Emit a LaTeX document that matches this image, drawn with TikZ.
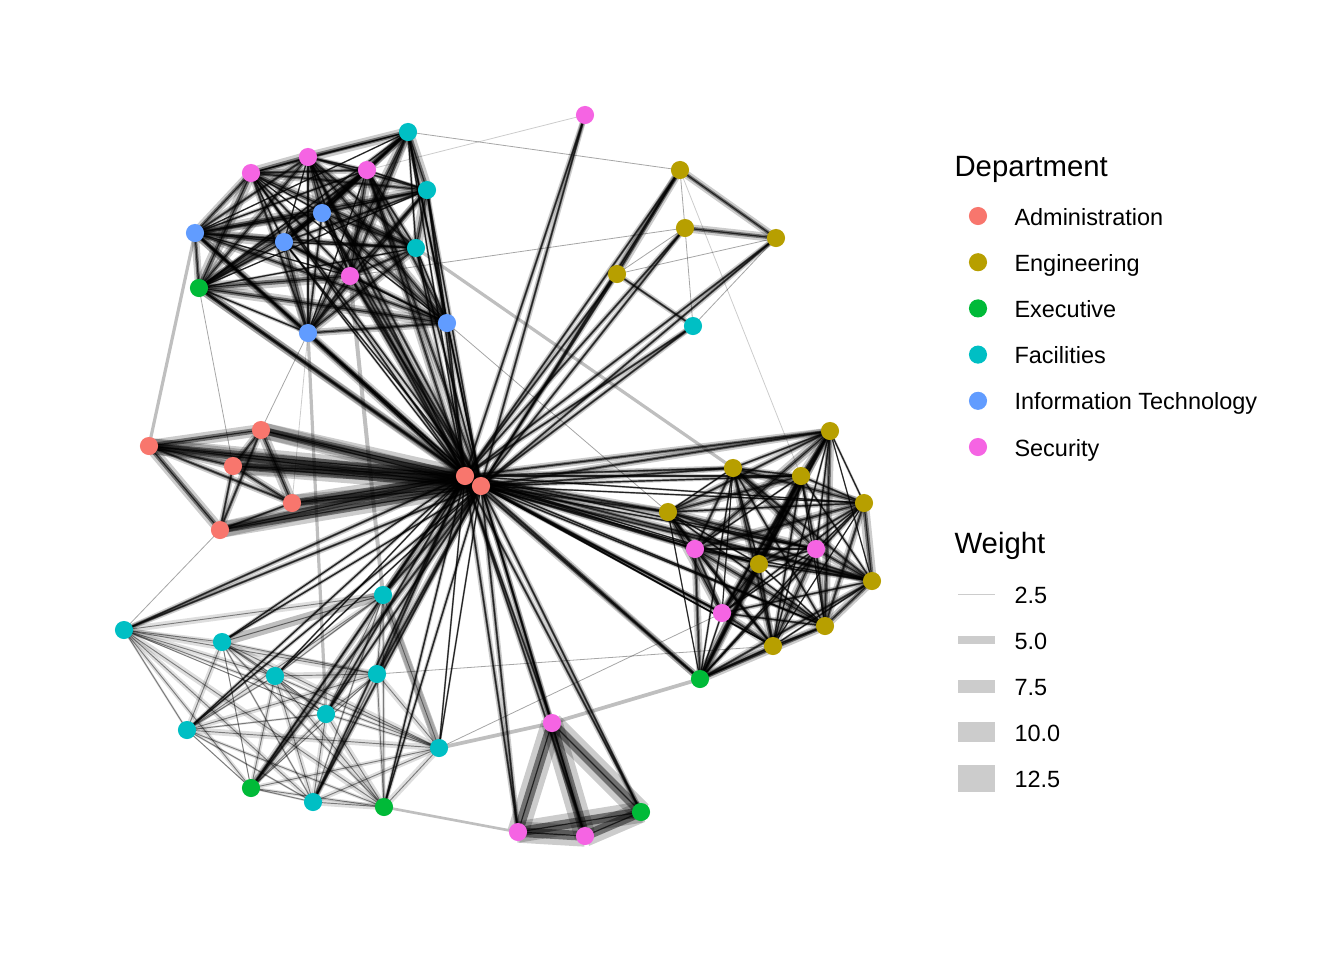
\documentclass[tikz,border=0pt]{standalone}
\usepackage{fontspec}
\setmainfont{Liberation Sans}
\usepackage{tikz}
\usetikzlibrary{backgrounds}
\tikzset{>=latex}
\definecolor{admcol}{HTML}{F8766D}
\definecolor{engcol}{HTML}{B79F00}
\definecolor{execol}{HTML}{00BA38}
\definecolor{faccol}{HTML}{00BFC4}
\definecolor{itcol}{HTML}{619CFF}
\definecolor{seccol}{HTML}{F564E3}
\tikzset{
	vertex/.style={circle,inner sep=0pt,minimum size=6.8pt,fill=#1},
	tie/.style={draw=black,draw opacity=0.7,line width=0.45pt,
		preaction={draw=black,draw opacity=0.2,line width=#1pt},
		preaction={draw=black,draw opacity=0.45,line width=0.45*#1pt}},
	tie/.default=2,
	thread/.style={draw=black,draw opacity=0.45,line width=0.35pt,
		preaction={draw=black,draw opacity=0.13,line width=#1pt}},
	thread/.default=1.5,
	wisp/.style={draw=black,draw opacity=0.35,line width=0.3pt},
	band/.style={draw=black,draw opacity=0.25,line width=#1pt},
	keytext/.style={anchor=base west,inner sep=0pt,font=\fontsize{8.8}{10.5}\selectfont},
	keytitle/.style={anchor=base west,inner sep=0pt,font=\fontsize{11}{13}\selectfont},
}
\def\toplist{sec1,sec2,sec3,fac1,fac2,it1,it2,it3,fac3,sec4,exe1,it4,it5}
\def\rightlist{eng5,eng6,eng7,eng8,eng9,sec6,sec7,eng10,eng11,sec8,eng12,eng13,exe2}
\def\lowlist{fac5,fac6,fac7,fac8,fac9,fac10,fac11,fac12,exe3,fac13,exe4}
\def\admlist{adm1,adm2,adm3,adm4,adm5}
\def\tiplist{sec5,eng1,eng2,eng3,eng4,fac4,sec9,exe5,sec10,sec11}

\begin{document}
\begin{tikzpicture}[x=0.375pt,y=-0.375pt]
		\useasboundingbox (0,0) rectangle (1344,960);
		% vertices
		\foreach \n/\x/\y in {sec1/251/173,sec2/308/157,sec3/367/170,sec4/350/276,sec5/585/115,sec6/695/549,sec7/816/549,sec8/722/613,sec9/552/723,sec10/518/832,sec11/585/836}
			\node[vertex=seccol] (\n) at (\x,\y) {};
		\foreach \n/\x/\y in {fac1/408/132,fac2/427/190,fac3/416/248,fac4/693/326,fac5/383/595,fac6/124/630,fac7/222/642,fac8/275/676,fac9/377/674,fac10/326/714,fac11/187/730,fac12/439/748,fac13/313/802}
			\node[vertex=faccol] (\n) at (\x,\y) {};
		\foreach \n/\x/\y in {it1/322/213,it2/195/233,it3/284/242,it4/308/333,it5/447/323}
			\node[vertex=itcol] (\n) at (\x,\y) {};
		\foreach \n/\x/\y in {exe1/199/288,exe2/700/679,exe3/251/788,exe4/384/807,exe5/641/812}
			\node[vertex=execol] (\n) at (\x,\y) {};
		\foreach \n/\x/\y in {eng1/680/170,eng2/685/228,eng3/776/238,eng4/617/274,eng5/830/431,eng6/733/468,eng7/801/476,eng8/864/503,eng9/668/512,eng10/759/564,eng11/872/581,eng12/825/626,eng13/773/646}
			\node[vertex=engcol] (\n) at (\x,\y) {};
		\foreach \n/\x/\y in {adm1/149/446,adm2/261/430,adm3/233/466,adm4/292/503,adm5/220/530,adm6/465/476,adm7/481/486}
			\node[vertex=admcol] (\n) at (\x,\y) {};

		\begin{scope}[on background layer]
		% spokes out of the two hubs
		\foreach \h in {adm6,adm7}{
			\foreach \n [count=\i] in \toplist
				{\pgfmathsetmacro\w{1+mod(\i*5,4)*0.7}\draw[tie=\w] (\h.center) -- (\n.center);}
			\foreach \n [count=\i] in \rightlist
				{\pgfmathsetmacro\w{0.8+mod(\i*3,4)*0.6}\draw[tie=\w] (\h.center) -- (\n.center);}
			\foreach \n [count=\i] in \lowlist
				{\pgfmathsetmacro\w{0.8+mod(\i*7,4)*0.6}\draw[tie=\w] (\h.center) -- (\n.center);}
			\foreach \n in \tiplist \draw[tie=2] (\h.center) -- (\n.center);
			\foreach \n in \admlist \draw[tie=6] (\h.center) -- (\n.center);
		}
		\draw[tie=3] (adm6.center) -- (adm7.center);
		% clusters
		\foreach \a [count=\i] in \toplist
			\foreach \b [count=\j] in \toplist
				{\ifnum\j>\i \pgfmathsetmacro\w{0.6+mod(\i*7+\j*5,9)*0.45}\draw[tie=\w] (\a.center) -- (\b.center);\fi}
		\foreach \a [count=\i] in \rightlist
			\foreach \b [count=\j] in \rightlist
				{\ifnum\j>\i \pgfmathsetmacro\w{0.5+mod(\i*5+\j*3,8)*0.45}\draw[tie=\w] (\a.center) -- (\b.center);\fi}
		\foreach \a [count=\i] in \lowlist
			\foreach \b [count=\j] in \lowlist
				{\ifnum\j>\i \pgfmathsetmacro\w{0.4+mod(\i*3+\j*7,6)*0.4}\draw[thread=\w] (\a.center) -- (\b.center);\fi}
		\foreach \a/\b/\w in {adm1/adm2/4.5,adm1/adm3/3,adm1/adm5/4,adm1/adm4/2.5,adm2/adm3/3,adm2/adm4/4,adm2/adm5/2.5,adm3/adm5/2,adm3/adm4/3,adm4/adm5/2}
			\draw[tie=\w] (\a.center) -- (\b.center);
		\foreach \a/\b in {sec9/sec10,sec9/sec11,sec9/exe5,sec10/sec11,sec11/exe5,sec10/exe5}
			\draw[tie=8] (\a.center) -- (\b.center);
		\foreach \a/\b/\w in {eng1/eng3/3,eng1/eng4/3,eng2/eng3/3.2,eng4/fac4/2}
			\draw[tie=\w] (\a.center) -- (\b.center);
		% loose threads
		\foreach \a/\b in {eng1/eng2,eng2/fac4,eng3/fac4,eng4/eng2,eng4/eng3,fac1/eng1,eng2/sec4,it5/eng9,exe1/adm3,it4/adm2,adm5/fac6,fac9/eng13,fac12/sec8}
			\draw[wisp] (\a.center) -- (\b.center);
		\foreach \a/\b in {sec3/sec5,eng1/eng7,it4/adm4}
			\draw[wisp,draw opacity=0.2] (\a.center) -- (\b.center);
		\foreach \a/\b/\w in {fac3/eng6/1.2,adm1/it2/1.2,it4/fac10/1.2,sec4/fac5/1.5,fac7/fac5/3.5,fac5/fac12/3,sec9/fac12/1.4,sec9/exe2/1.4,sec10/exe4/1}
			\draw[band=\w] (\a.center) -- (\b.center);
		\end{scope}

		% legend
		\node[keytitle] (depttitle) at (954,176.5) {Department};
		\foreach \c/\t [count=\k] in {admcol/Administration,engcol/Engineering,execol/Executive,faccol/Facilities,itcol/Information Technology,seccol/Security}{
			\node[vertex=\c] (dkey\k) at (978,169.8+46.2*\k) {};
			\node[keytext] (dlab\k) at (1014,178.8+46.2*\k) {\t};
		}
		\node[keytitle] (wtitle) at (954,553.5) {Weight};
		\foreach \t/\h [count=\k] in {2.5/1,5.0/8,7.5/13.3,10.0/20,12.5/26.7}{
			\fill[black!20] (958,547.9+46.1*\k-\h/2) rectangle (995,547.9+46.1*\k+\h/2);
			\node[keytext] (wlab\k) at (1014,557.2+46.1*\k) {\t};
		}
	\end{tikzpicture}
\end{document}
